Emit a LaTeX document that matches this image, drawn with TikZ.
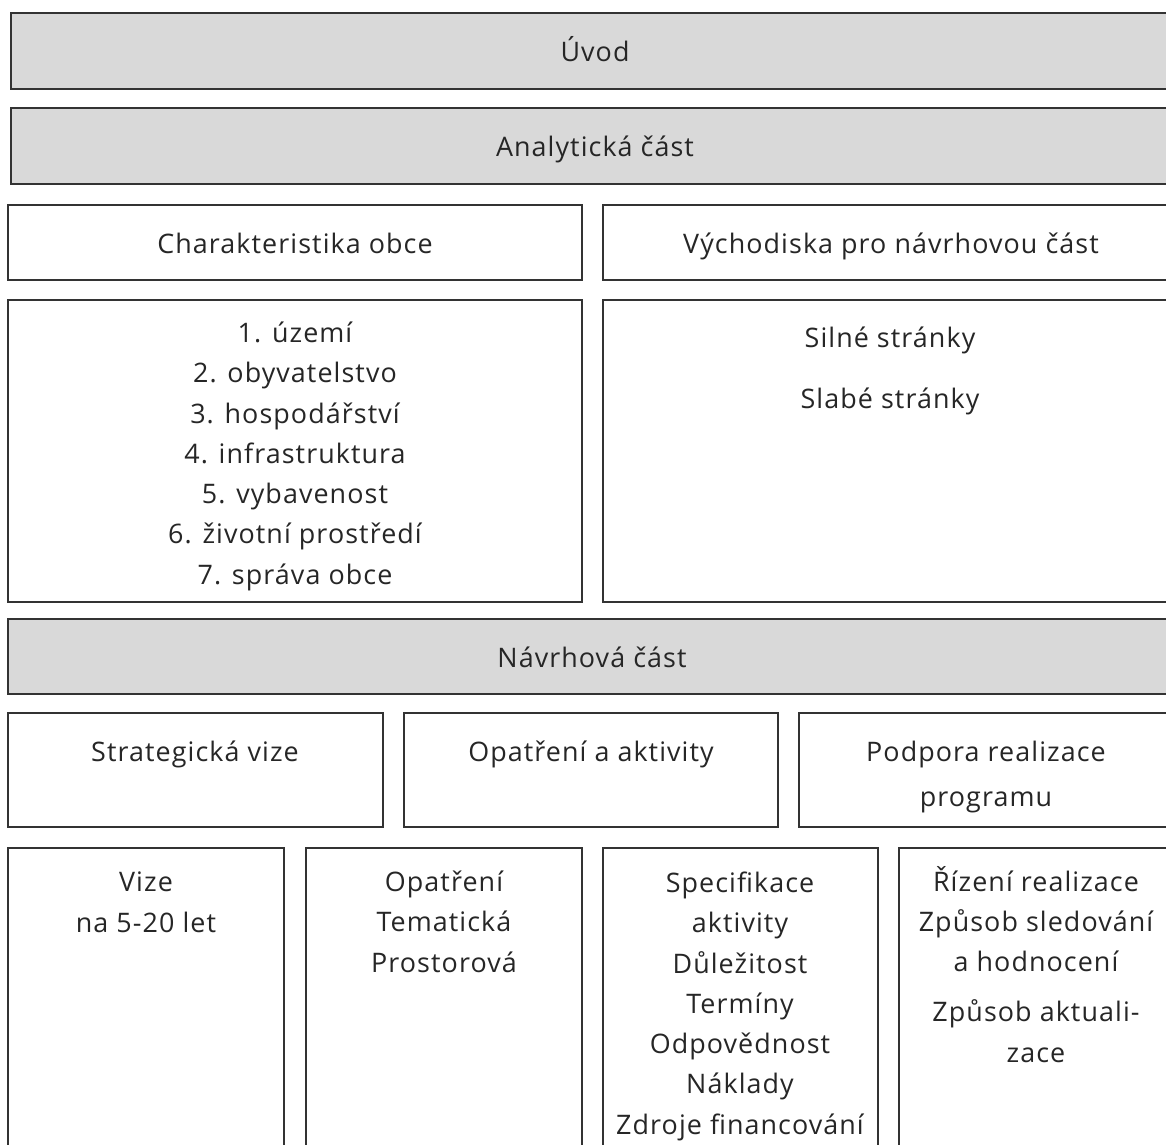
\documentclass[tikz,border=0pt]{standalone}
\usepackage{fontspec}
\setmainfont{Open Sans}[LetterSpace=4]
\usetikzlibrary{fit}

\begin{document}
\begin{tikzpicture}[x=0.02cm,y=-0.02cm,
	  every node/.style={font=\fontsize{15.3}{22.9}\selectfont,text=black!85},
	  bar/.style={draw=black!80,line width=0.8pt,fill=black!15,inner sep=0pt},
	  box/.style={draw=black!80,line width=0.8pt,fill=white,inner sep=0pt},
	  lines/.style={align=center,inner sep=0pt,anchor=base}]
	  \useasboundingbox (0,0) rectangle (1166,1144);
	  \clip (0,0) rectangle (1166,1144);
	  % bars
	  \node (uvod) [bar,fit={(11,13) (1179,89)}] {};
	  \node [lines] at (uvod.center |- 0,61) {Úvod};
	  \node (analyza) [bar,fit={(11,108) (1179,184)}] {};
	  \node [lines] at (analyza.center |- 0,156) {Analytická část};
	  \node (navrh) [bar,fit={(8,619) (1176,694)}] {};
	  \node [lines] at (navrh.center |- 0,667) {Návrhová část};
	  % analytic part (anchor base = last line)
	  \node (charakter) [box,fit={(8,205) (582,280)}] {};
	  \node [lines] at (charakter.center |- 0,253) {Charakteristika obce};
	  \node (vychodiska) [box,fit={(603,205) (1179,280)}] {};
	  \node [lines] at (vychodiska.center |- 0,253) {Východiska pro návrhovou část};
	  \node (oblasti) [box,fit={(8,300) (582,602)}] {};
	  \node [lines] at (295,584) {1. území\\2. obyvatelstvo\\3. hospodářství\\4. infrastruktura\\5. vybavenost\\6. životní prostředí\\7. správa obce};
	  \node (swot) [box,fit={(603,300) (1177,602)}] {};
	  \node [lines] at (890,408) {Silné stránky\\[11.7pt]Slabé stránky};
	  % proposal part
	  \node (vize) [box,fit={(8,713) (383,827)}] {};
	  \node [lines] at (195,761) {Strategická vize};
	  \node (opatreni) [box,fit={(404,713) (778,827)}] {};
	  \node [lines] at (591,761) {Opatření a aktivity};
	  \node (podpora) [box,fit={(799,713) (1172,827)}] {};
	  \node [lines] at (986,806) {Podpora realizace\\[2.6pt]programu};
	  \node (vizedetail) [box,fit={(8,848) (284,1160)}] {};
	  \node [lines] at (146,932) {Vize\\na 5-20 let};
	  \node (opatrenidetail) [box,fit={(306,848) (582,1160)}] {};
	  \node [lines] at (444,972) {Opatření\\Tematická\\Prostorová};
	  \node (aktivity) [box,fit={(603,848) (878,1160)}] {};
	  \node [lines] at (740,1134) {Specifikace\\aktivity\\Důležitost\\Termíny\\Odpovědnost\\Náklady\\Zdroje financování};
	  \node (rizeni) [box,fit={(899,848) (1175,1160)}] {};
	  \node [lines] at (1036,1062) {Řízení realizace\\Způsob sledování\\a hodnocení\\[5.5pt]Způsob aktuali-\\zace};
	\end{tikzpicture}
\end{document}
